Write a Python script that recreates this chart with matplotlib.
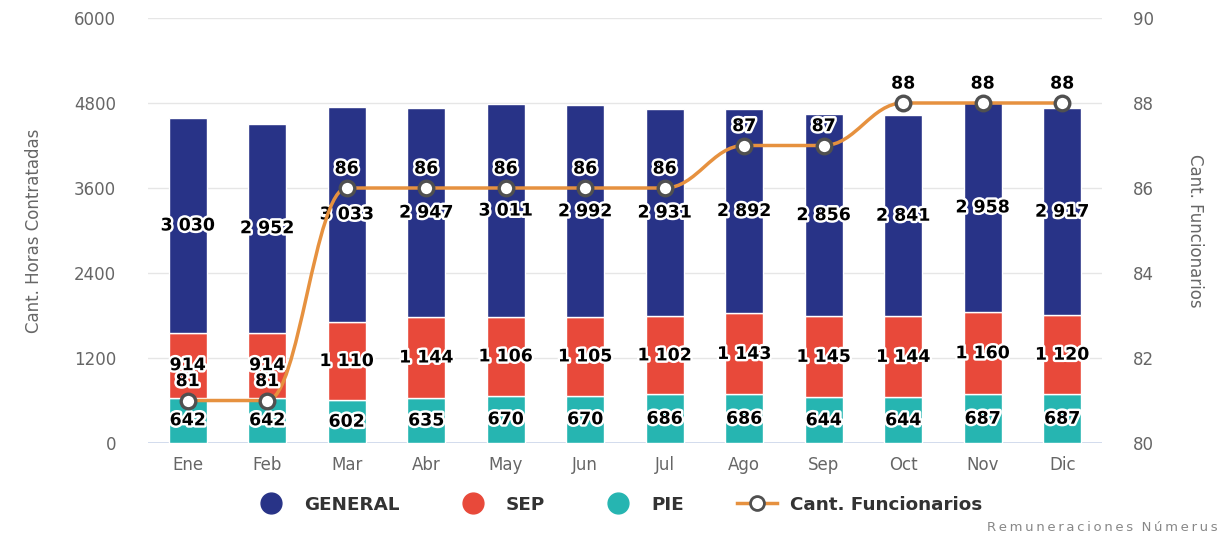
import matplotlib
matplotlib.use("Agg")
import matplotlib.pyplot as plt
import matplotlib.patheffects as pe
from matplotlib.path import Path
from matplotlib.patches import PathPatch
from matplotlib.lines import Line2D
import numpy as np

months = ["Ene", "Feb", "Mar", "Abr", "May", "Jun", "Jul", "Ago", "Sep", "Oct", "Nov", "Dic"]
pie = [642, 642, 602, 635, 670, 670, 686, 686, 644, 644, 687, 687]
sep = [914, 914, 1110, 1144, 1106, 1105, 1102, 1143, 1145, 1144, 1160, 1120]
general = [3030, 2952, 3033, 2947, 3011, 2992, 2931, 2892, 2856, 2841, 2958, 2917]
funcionarios = [81, 81, 86, 86, 86, 86, 86, 87, 87, 88, 88, 88]

left_ticks = [0, 1200, 2400, 3600, 4800, 6000]
right_ticks = [80, 82, 84, 86, 88, 90]

C_GEN = "#283387"
C_SEP = "#e8493a"
C_PIE = "#26b5b1"
C_LINE = "#e6913f"
GREY = "#666666"

def fmt(v):
    return f"{v:,}".replace(",", " ")

fig = plt.figure(figsize=(12.21, 5.37), dpi=100)
ax = fig.add_axes([0.1212, 0.175, 0.7813, 0.7915])
ax2 = ax.twinx()

x = np.arange(len(months))
w = 0.48
pie_a = np.array(pie); sep_a = np.array(sep); gen_a = np.array(general)
ax.bar(x, pie_a, w, color=C_PIE, edgecolor="white", linewidth=1, zorder=2)
ax.bar(x, sep_a, w, bottom=pie_a, color=C_SEP, edgecolor="white", linewidth=1, zorder=2)
ax.bar(x, gen_a, w, bottom=pie_a + sep_a, color=C_GEN, edgecolor="white", linewidth=1, zorder=2)

stroke = [pe.withStroke(linewidth=3.5, foreground="white")]
lab_kw = dict(ha="center", va="center", fontsize=12.5, fontweight="bold", color="black",
              path_effects=stroke, zorder=6)
for i in x:
    ax.text(i, pie_a[i] / 2, fmt(pie[i]), **lab_kw)
    ax.text(i, pie_a[i] + sep_a[i] / 2, fmt(sep[i]), **lab_kw)
    ax.text(i, pie_a[i] + sep_a[i] + gen_a[i] / 2, fmt(general[i]), **lab_kw)

ax.set_xlim(-0.5, len(months) - 0.5)
ax.set_ylim(0, 6000)
ax.set_yticks(left_ticks)
ax.set_yticklabels([str(t) for t in left_ticks])
ax.set_xticks(x)
ax.set_xticklabels(months)
ax.grid(axis="y", color="#e6e6e6", linewidth=1, zorder=0)
ax.set_axisbelow(True)
for s in ax.spines.values():
    s.set_visible(False)
for s in ax2.spines.values():
    s.set_visible(False)
ax.axhline(0, color="#ccd6eb", linewidth=1.2, zorder=1)
ax.tick_params(axis="both", length=0, labelsize=12, labelcolor=GREY)
ax.tick_params(axis="y", pad=23)
ax.tick_params(axis="x", pad=9)
ax.set_ylabel("Cant. Horas Contratadas", fontsize=12, color=GREY, labelpad=22)

ax2.set_ylim(80, 90)
ax2.set_yticks(right_ticks)
ax2.set_yticklabels([str(t) for t in right_ticks])
ax2.tick_params(axis="y", length=0, labelsize=12, labelcolor=GREY, pad=22)
ax2.set_ylabel("Cant. Funcionarios", fontsize=12, color=GREY, rotation=-90, labelpad=36)

# Highcharts-like spline through the data points
xs = x.astype(float)
ys = np.array(funcionarios, dtype=float)
n = len(xs)
sm = 1.5
lc = [(xs[i], ys[i]) for i in range(n)]
rc = [(xs[i], ys[i]) for i in range(n)]
for i in range(1, n - 1):
    px, py = xs[i], ys[i]
    lx, ly = xs[i - 1], ys[i - 1]
    nx, ny = xs[i + 1], ys[i + 1]
    lcx = (sm * px + lx) / (sm + 1); lcy = (sm * py + ly) / (sm + 1)
    rcx = (sm * px + nx) / (sm + 1); rcy = (sm * py + ny) / (sm + 1)
    if rcx != lcx:
        corr = ((rcy - lcy) * (rcx - px)) / (rcx - lcx) + py - rcy
        lcy += corr; rcy += corr
    if lcy > ly and lcy > py:
        lcy = max(ly, py); rcy = 2 * py - lcy
    elif lcy < ly and lcy < py:
        lcy = min(ly, py); rcy = 2 * py - lcy
    if rcy > ny and rcy > py:
        rcy = max(ny, py); lcy = 2 * py - rcy
    elif rcy < ny and rcy < py:
        rcy = min(ny, py); lcy = 2 * py - rcy
    lc[i] = (lcx, lcy); rc[i] = (rcx, rcy)
verts = [(xs[0], ys[0])]
codes = [Path.MOVETO]
for i in range(1, n):
    verts += [rc[i - 1], lc[i], (xs[i], ys[i])]
    codes += [Path.CURVE4] * 3
ax2.add_patch(PathPatch(Path(verts, codes), facecolor="none", edgecolor=C_LINE, linewidth=2.5, zorder=4))
ax2.plot(xs, ys, linestyle="none", marker="o", markersize=10.5, markerfacecolor="white",
         markeredgecolor="#505050", markeredgewidth=2.4, zorder=5)
for i in range(n):
    ax2.annotate(str(funcionarios[i]), (xs[i], ys[i]), xytext=(0, 14), textcoords="offset points",
                 ha="center", va="center", fontsize=12.5, fontweight="bold", color="black",
                 path_effects=stroke, zorder=6)

handles = [
    Line2D([], [], linestyle="none", marker="o", markersize=15, markerfacecolor=C_GEN, markeredgecolor=C_GEN),
    Line2D([], [], linestyle="none", marker="o", markersize=15, markerfacecolor=C_SEP, markeredgecolor=C_SEP),
    Line2D([], [], linestyle="none", marker="o", markersize=15, markerfacecolor=C_PIE, markeredgecolor=C_PIE),
    Line2D([], [], color=C_LINE, linewidth=2.5, marker="o", markersize=10, markerfacecolor="white",
           markeredgecolor="#505050", markeredgewidth=2),
]
leg = fig.legend(handles, ["GENERAL", "SEP", "PIE", "Cant. Funcionarios"], loc="center",
                 bbox_to_anchor=(0.505, 0.06), ncol=4, frameon=False, handlelength=2.2,
                 columnspacing=2.9, handletextpad=0.7,
                 prop={"weight": "bold", "size": 13.2})
for t in leg.get_texts():
    t.set_color("#333333")

credit = "\u2009".join("Remuneraciones") + "  " + "\u2009".join("Númerus")
fig.text(0.997, 0.006, credit, ha="right", va="bottom", fontsize=9.5, color="#888888")

fig.savefig("out.png", dpi=100)
